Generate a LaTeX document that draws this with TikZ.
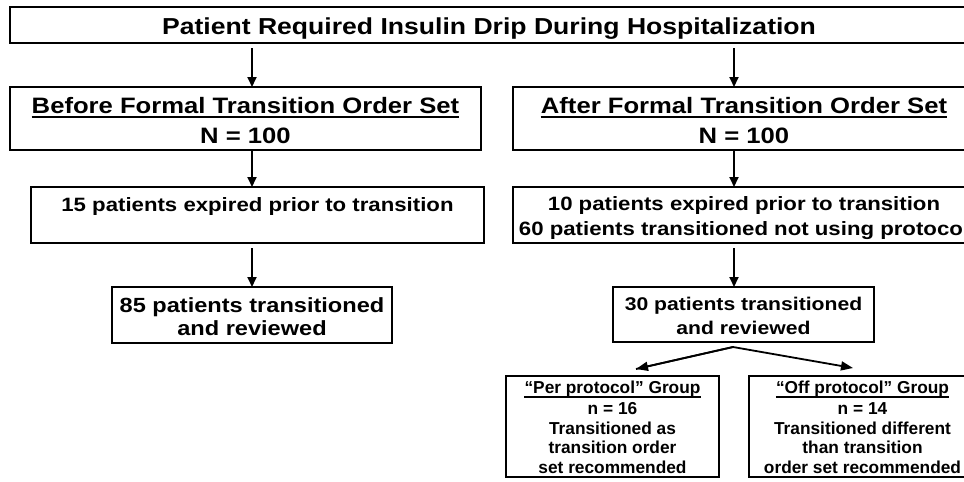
\documentclass[tikz,border=0pt]{standalone}
\usepackage{fontspec}
\setmainfont{Liberation Sans}[FakeStretch=1.15]
\newfontfamily\plainf{Liberation Sans}
\usetikzlibrary{arrows.meta,calc}
\begin{document}
\begin{tikzpicture}[x=1pt,y=-1pt,
  box/.style={draw, line width=1.8pt, inner sep=0pt, outer sep=0pt},
  txt/.style={inner sep=0pt, anchor=base},
  fTitle/.style={font=\bfseries\fontsize{23.1}{27}\selectfont},
  fHead/.style={font=\bfseries\fontsize{22.3}{26}\selectfont},
  fRow/.style={font=\bfseries\fontsize{19.3}{23}\selectfont},
  fEight/.style={font=\bfseries\fontsize{20.5}{24}\selectfont},
  fThirty/.style={font=\bfseries\fontsize{18.4}{22}\selectfont},
  fSmall/.style={font=\plainf\bfseries\fontsize{17.3}{20}\selectfont},
  arr/.style={line width=1.8pt, -{Triangle[length=10pt,width=9pt]}},
  arrs/.style={line width=1.8pt, -{Triangle[length=12pt,width=9pt]}},
  uline/.style={line width=2pt},
  ulines/.style={line width=1.5pt},
]
\useasboundingbox (0,0) rectangle (964,482);
\clip (0,0) rectangle (964,482);

% boxes
\node[box, minimum width=958pt, minimum height=36pt] (top) at (489,25) {};
\node[box, minimum width=471pt, minimum height=63pt] (before) at (245.5,118.5) {};
\node[box, minimum width=462pt, minimum height=63pt] (after) at (744,118.5) {};
\node[box, minimum width=453pt, minimum height=56pt] (exp15) at (257.5,215) {};
\node[box, minimum width=462pt, minimum height=56pt] (exp10) at (744,215) {};
\node[box, minimum width=280pt, minimum height=56pt] (t85) at (252,315) {};
\node[box, minimum width=261pt, minimum height=55pt] (t30) at (743.5,314.5) {};
\node[box, minimum width=213pt, minimum height=101pt] (per) at (612.5,426.5) {};
\node[box, minimum width=227pt, minimum height=101pt] (off) at (862.5,426.5) {};

% texts
\node[txt, fTitle] (ttitle) at (489,34) {Patient Required Insulin Drip During Hospitalization};

\node[txt, fHead] (tbefore) at (245.5,113) {Before Formal Transition Order Set};
\node[txt, fHead] (nbefore) at (245.5,143) {N = 100};
\draw[uline] ([yshift=-4pt]tbefore.base west) -- ([yshift=-4pt]tbefore.base east);

\node[txt, fHead] (tafter) at (744,113) {After Formal Transition Order Set};
\node[txt, fHead] (nafter) at (744,143) {N = 100};
\draw[uline] ([yshift=-4pt]tafter.base west) -- ([yshift=-4pt]tafter.base east);

\node[txt, fRow] (texp15) at (257.5,211) {15 patients expired prior to transition};
\node[txt, fRow] (texp10a) at (744,210) {10 patients expired prior to transition};
\node[txt, fRow] (texp10b) at (744,235) {60 patients transitioned not using protocol};

\node[txt, fEight] (t85a) at (252,312) {85 patients transitioned};
\node[txt, fEight] (t85b) at (252,335) {and reviewed};

\node[txt, fThirty] (t30a) at (743.5,310) {30 patients transitioned};
\node[txt, fThirty] (t30b) at (743.5,334) {and reviewed};

\node[txt, fSmall] (pera) at (612.5,393) {“Per protocol” Group};
\draw[ulines] ([yshift=-4pt]pera.base west) -- ([yshift=-4pt]pera.base east);
\node[txt, fSmall] (perb) at (612.5,414) {n = 16};
\node[txt, fSmall] (perc) at (612.5,434) {Transitioned as};
\node[txt, fSmall] (perd) at (612.5,453) {transition order};
\node[txt, fSmall] (pere) at (612.5,473) {set recommended};

\node[txt, fSmall] (offa) at (862.5,393) {“Off protocol” Group};
\draw[ulines] ([yshift=-4pt]offa.base west) -- ([yshift=-4pt]offa.base east);
\node[txt, fSmall] (offb) at (862.5,414) {n = 14};
\node[txt, fSmall] (offc) at (862.5,434) {Transitioned different};
\node[txt, fSmall] (offd) at (862.5,453) {than transition};
\node[txt, fSmall] (offe) at (862.5,473) {order set recommended};

% connectors
\coordinate (colL) at (252,0);
\coordinate (colR) at (734,0);
\draw[arr, shorten <=5pt] (top.south -| colL) -- (before.north -| colL);
\draw[arr, shorten <=5pt] (top.south -| colR) -- (after.north -| colR);
\draw[arr] (before.south -| colL) -- (exp15.north -| colL);
\draw[arr] (after.south -| colR) -- (exp10.north -| colR);
\draw[arr, shorten <=5pt] (exp15.south -| colL) -- (t85.north -| colL);
\draw[arr, shorten <=5pt] (exp10.south -| colR) -- (t30.north -| colR);

\coordinate (split) at ($(t30.south -| colR)+(-1,5)$);
\coordinate (tipL) at ($(per.north)+(23.5,-7)$);
\coordinate (tipR) at ($(off.north)+(-9.5,-8)$);
\draw[arrs, line join=round] (tipL) -- (split) -- (tipR);
\draw[arrs] (split) -- (tipL);
\end{tikzpicture}
\end{document}
